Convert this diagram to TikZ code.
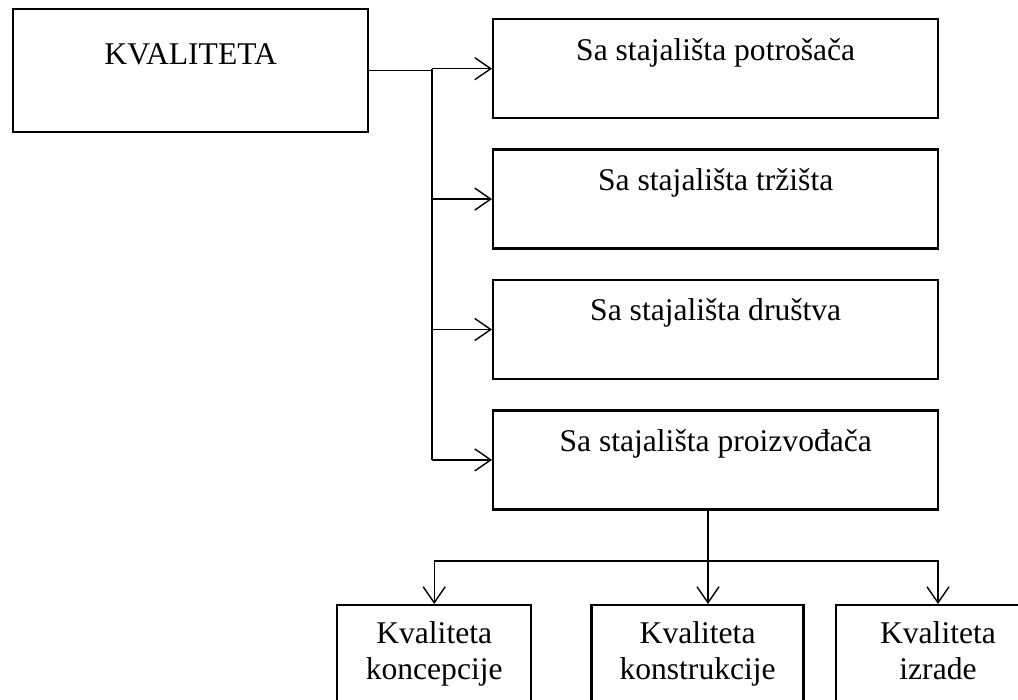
\documentclass[tikz,border=0pt]{standalone}
\usepackage{fontspec}
\setmainfont{Liberation Serif}
\usetikzlibrary{arrows.meta,positioning}

\begin{document}
\begin{tikzpicture}[x=0.5pt,y=-0.5pt,
  box/.style={draw,line width=1.2pt,inner sep=0pt,font=\fontsize{15.8}{18}\selectfont},
  mainbox/.style={box,minimum width=177.5pt,text height=27.5pt,text depth=34pt},
  viewbox/.style={box,minimum width=222.5pt,text height=20.5pt,text depth=29pt},
  partbox/.style={box,align=center,minimum height=51pt,
    execute at begin node=\strut,execute at end node=\strut},
  link/.style={line width=0.7pt},
  arr/.style={-{Straight Barb[length=8pt,width=11pt]}}
]
  \useasboundingbox (0,0) rectangle (1018,700);
  \node[mainbox,anchor=north west] (main) at (12,8) {KVALITETA};
  \node[viewbox,anchor=north west] (p1) at (492,18) {Sa stajališta potrošača};
  \node[viewbox,below=14.5pt of p1] (p2) {Sa stajališta tržišta};
  \node[viewbox,below=14.5pt of p2] (p3) {Sa stajališta društva};
  \node[viewbox,below=14.5pt of p3] (p4) {Sa stajališta proizvođača};
  \node[partbox,minimum width=97pt,anchor=north west] (k1) at (336,604) {Kvaliteta\\koncepcije};
  \node[partbox,minimum width=106pt,right=29pt of k1] (k2) {Kvaliteta\\konstrukcije};
  \node[partbox,minimum width=102pt,right=15pt of k2] (k3) {Kvaliteta\\izrade};

  \coordinate (trunk) at (432,0);
  \coordinate (split) at (708,561);
  \draw[link] (main.east) -- (main.east -| trunk);
  \draw[link] (trunk |- p1.west) -- (trunk |- p4.west);
  \foreach \i in {1,...,4}
    \draw[link,arr] (trunk |- p\i.west) -- (p\i.west);
  \draw[link,arr] (p4.south -| split) -- (split |- k2.north);
  \draw[link,{Straight Barb[length=8pt,width=11pt]}-{Straight Barb[length=8pt,width=11pt]}]
    (k1.north) -- (k1.north |- split) -- (k3.north |- split) -- (k3.north);
\end{tikzpicture}
\end{document}
